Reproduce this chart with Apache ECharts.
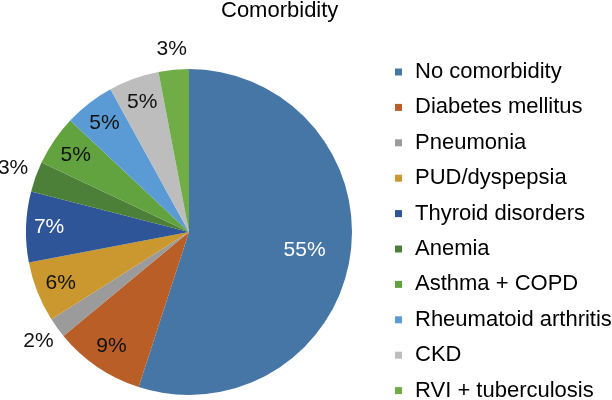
<!DOCTYPE html>
<html>
<head>
<meta charset="utf-8">
<script src="https://cdn.jsdelivr.net/npm/echarts@6/dist/echarts.min.js"></script>
<style>
html,body{margin:0;padding:0;background:#fff;}
#chart{width:612px;height:400px;}
</style>
</head>
<body>
<div id="chart"></div>
<script>
// Data
const titleText = 'Comorbidity';
const categories = ['No comorbidity','Diabetes mellitus','Pneumonia','PUD/dyspepsia','Thyroid disorders','Anemia','Asthma + COPD','Rheumatoid arthritis','CKD','RVI + tuberculosis'];
const percentValues = [55, 9, 2, 6, 7, 3, 5, 5, 5, 3];

// Styles
const colors = ['#4676A5','#B95E27','#9B9B9B','#CA982E','#2E5597','#4C7F38','#62A23F','#5B9BD5','#BDBDBD','#70AD47'];
const labelColors = ['#fff','#111','#111','#111','#fff','#111','#111','#111','#111','#111'];
const labelRadius = [117, 138, 186, 138, 140, 187, 137, 138, 138, 184];
const CX = 189, CY = 232, R = 163;
const FONT = '"Liberation Sans", Arial, sans-serif';

const chart = echarts.init(document.getElementById('chart'), null, {renderer:'canvas'});
chart.setOption({
  animation: false,
  backgroundColor: '#fff',
  color: colors,
  title: {
    text: titleText,
    left: 221, top: 0, padding: 0,
    textStyle: {fontFamily: FONT, fontSize: 22, fontWeight: 'normal', color: '#000'}
  },
  legend: {
    orient: 'vertical',
    left: 395, top: 60,
    height: 360,
    padding: 0,
    itemWidth: 7, itemHeight: 7,
    itemGap: 11.4,
    icon: 'rect',
    data: categories,
    textStyle: {fontFamily: FONT, fontSize: 22, color: '#000', lineHeight: 24, padding: [0,0,0,8]}
  },
  series: [{
    type: 'pie',
    center: [CX, CY],
    radius: [0, R],
    startAngle: 90,
    clockwise: true,
    avoidLabelOverlap: false,
    itemStyle: {borderWidth: 0},
    label: {
      show: true,
      position: 'inside',
      fontFamily: FONT,
      fontSize: 21,
      formatter: p => p.value + '%'
    },
    labelLine: {show: false},
    labelLayout: function (params) {
      const r = params.labelRect;
      const lx = r.x + r.width / 2, ly = r.y + r.height / 2;
      const dx = lx - CX, dy = ly - CY;
      const d = Math.sqrt(dx*dx + dy*dy) || 1;
      const k = labelRadius[params.dataIndex] / d;
      return {x: CX + dx * k, y: CY + dy * k, align: 'center', verticalAlign: 'middle'};
    },
    data: categories.map((name, i) => ({
      name: name,
      value: percentValues[i],
      label: {color: labelColors[i]}
    }))
  }]
});
</script>
</body>
</html>
